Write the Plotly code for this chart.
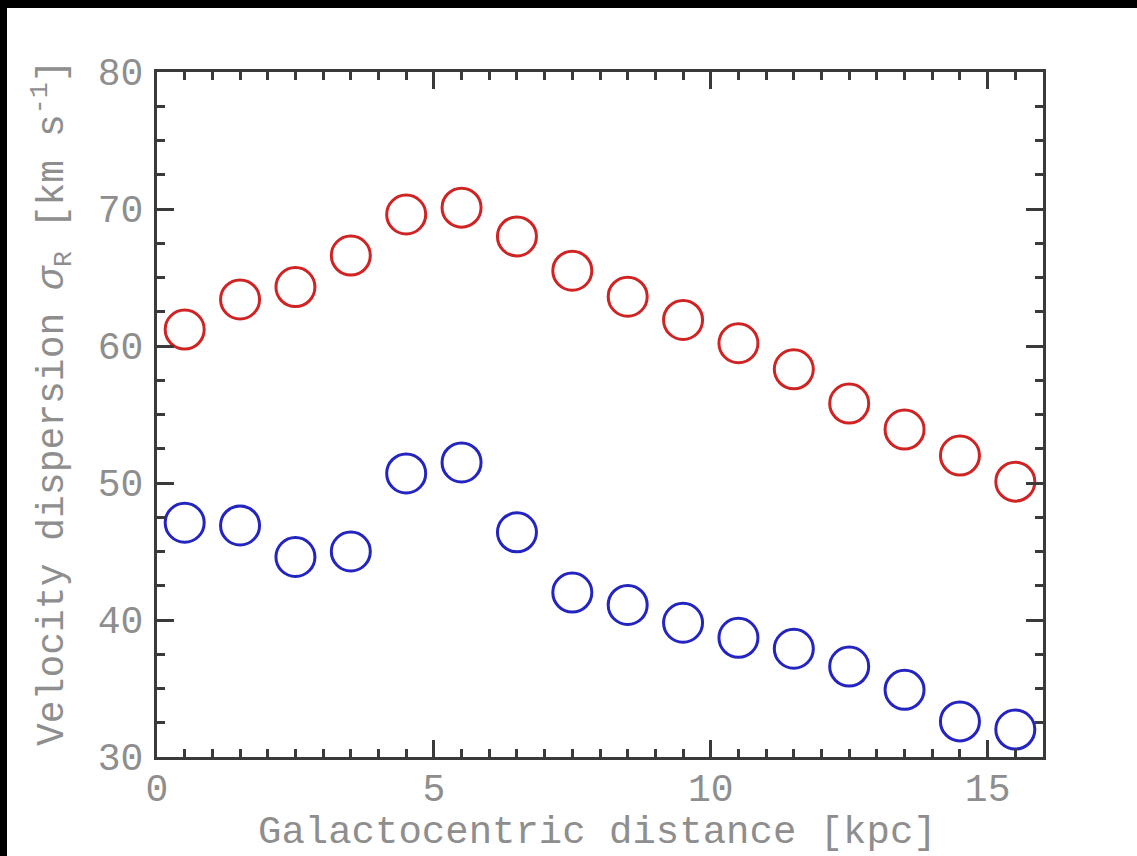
import plotly.graph_objects as go

# Galactocentric radius bins [kpc]
radius_kpc = [0.5, 1.5, 2.5, 3.5, 4.5, 5.5, 6.5, 7.5, 8.5, 9.5, 10.5, 11.5, 12.5, 13.5, 14.5, 15.5]

# Radial velocity dispersion per bin [km/s]
sigma_red = [61.2, 63.4, 64.3, 66.6, 69.6, 70.1, 68.0, 65.5, 63.6, 61.9, 60.2, 58.3, 55.8, 53.9, 52.0, 50.1]
sigma_blue = [47.1, 46.9, 44.6, 45.0, 50.7, 51.5, 46.4, 42.0, 41.1, 39.8, 38.7, 37.9, 36.6, 34.9, 32.6, 32.0]

x_ticks = [0, 5, 10, 15]
y_ticks = [30, 40, 50, 60, 70, 80]

x_title = "Galactocentric distance [kpc]"
y_title = "Velocity dispersion <i>σ</i><sub>R</sub> [km s<sup>-1</sup>]"

FONT = "Liberation Mono, Courier New, monospace"
TEXT_GRAY = "#8e8e8e"
AXIS_GRAY = "#3a3a3a"

W, H = 1137, 856
ML, MR, MT, MB = 157, 94, 72, 99
PW, PH = W - ML - MR, H - MT - MB


def px_x(p):
    """Canvas pixel column -> paper x."""
    return (p - ML) / PW


def px_y(p):
    """Canvas pixel row -> paper y."""
    return (H - MB - p) / PH


fig = go.Figure()
fig.add_trace(go.Scatter(
    x=radius_kpc, y=sigma_red, mode="markers",
    marker=dict(symbol="circle-open", size=39, color="#d02424",
                line=dict(width=3, color="#d02424")),
    cliponaxis=False, showlegend=False,
))
fig.add_trace(go.Scatter(
    x=radius_kpc, y=sigma_blue, mode="markers",
    marker=dict(symbol="circle-open", size=39, color="#2424c0",
                line=dict(width=3, color="#2424c0")),
    cliponaxis=False, showlegend=False,
))

axis_common = dict(
    showgrid=False, zeroline=False, showline=True, mirror="allticks",
    linecolor=AXIS_GRAY, linewidth=3,
    ticks="inside", ticklen=17, tickwidth=3, tickcolor=AXIS_GRAY,
    tickfont=dict(family=FONT, size=38, color=TEXT_GRAY),
)

fig.update_xaxes(
    range=[0, 16], tickvals=x_ticks, ticktext=[str(v) for v in x_ticks],
    minor=dict(dtick=0.5, ticks="inside", ticklen=8, tickwidth=3, tickcolor=AXIS_GRAY),
    ticklabelstandoff=-5,
    **axis_common,
)
fig.update_yaxes(
    range=[30, 80], tickvals=y_ticks, ticktext=[str(v) for v in y_ticks],
    minor=dict(dtick=2.5, ticks="inside", ticklen=8, tickwidth=3, tickcolor=AXIS_GRAY),
    ticklabelstandoff=3,
    **axis_common,
)

# axis titles
fig.add_annotation(text=x_title, xref="paper", yref="paper",
                   x=px_x(597), y=px_y(833), xanchor="center", yanchor="middle",
                   showarrow=False, font=dict(family=FONT, size=39, color=TEXT_GRAY))
fig.add_annotation(text=y_title, xref="paper", yref="paper", textangle=-90,
                   x=px_x(52), y=px_y(403), xanchor="center", yanchor="middle",
                   showarrow=False, font=dict(family=FONT, size=38, color=TEXT_GRAY))

# dark frame along the top and left edges of the canvas
fig.add_shape(type="rect", xref="paper", yref="paper", layer="below",
              x0=px_x(0), x1=px_x(W), y0=px_y(0), y1=px_y(8),
              fillcolor="black", line_width=0)
fig.add_shape(type="rect", xref="paper", yref="paper", layer="below",
              x0=px_x(0), x1=px_x(7), y0=px_y(H), y1=px_y(0),
              fillcolor="black", line_width=0)

fig.update_layout(
    width=W, height=H,
    margin=dict(l=ML, r=MR, t=MT, b=MB, autoexpand=False),
    paper_bgcolor="white", plot_bgcolor="white",
)

fig.write_html("out.html")
